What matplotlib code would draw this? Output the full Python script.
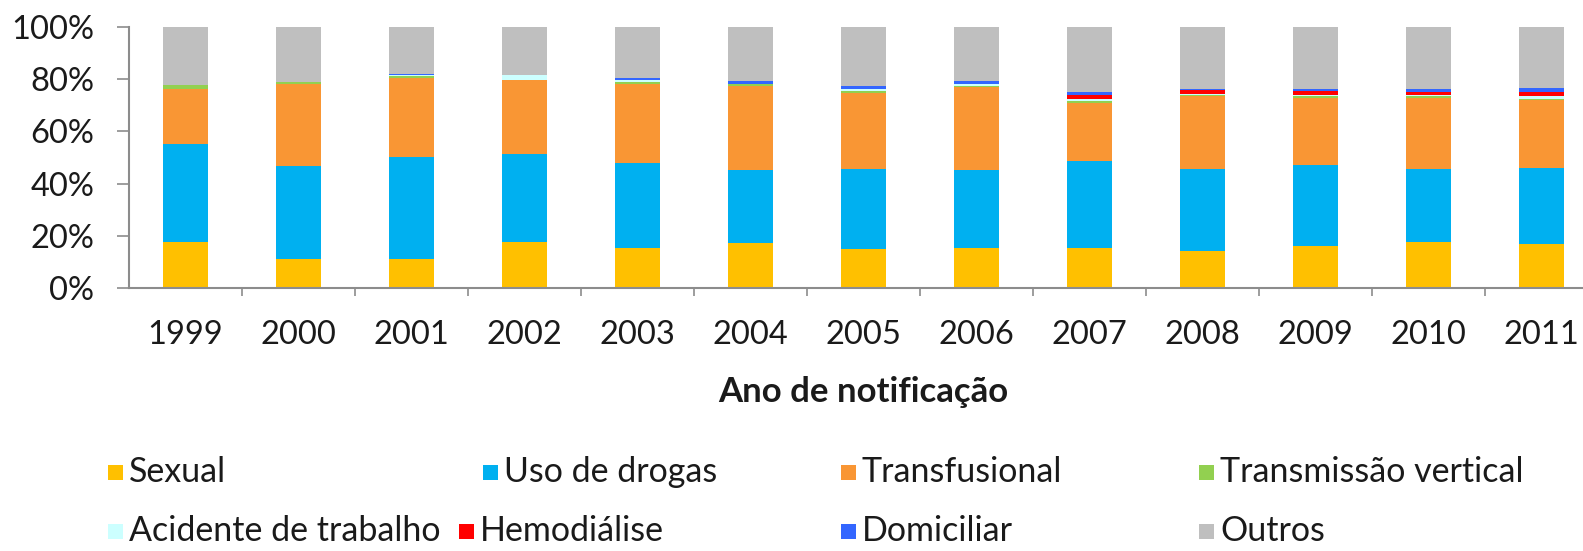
import numpy as np
import matplotlib
matplotlib.use("Agg")
import matplotlib.pyplot as plt
from matplotlib.patches import Rectangle

plt.rcParams['font.family'] = ['Lato', 'DejaVu Sans']

years = ['1999', '2000', '2001', '2002', '2003', '2004', '2005',
         '2006', '2007', '2008', '2009', '2010', '2011']

sexual        = [17.5, 11.1, 11.1, 17.5, 15.5, 17.1, 15.0, 15.5, 15.2, 14.1, 16.1, 17.5, 16.9]
uso_drogas    = [37.5, 35.7, 39.0, 34.0, 32.5, 28.0, 30.6, 29.6, 33.3, 31.5, 30.9, 28.1, 29.2]
transfusional = [21.2, 31.5, 30.2, 28.1, 30.3, 32.4, 29.3, 31.8, 22.2, 27.8, 25.9, 27.3, 25.9]
transm_vert   = [1.4, 0.8, 0.8, 0.0, 0.7, 0.5, 0.5, 0.6, 0.8, 0.6, 0.6, 0.6, 0.6]
acidente      = [0.0, 0.0, 0.4, 1.9, 0.8, 0.2, 1.0, 0.8, 0.8, 0.5, 0.5, 0.5, 1.1]
hemodialise   = [0.0, 0.0, 0.0, 0.0, 0.0, 0.0, 0.0, 0.0, 1.7, 1.3, 1.5, 1.1, 1.4]
domiciliar    = [0.0, 0.0, 0.6, 0.0, 0.8, 1.0, 1.0, 0.9, 1.0, 0.5, 0.6, 1.0, 1.5]

series_names = ['Sexual', 'Uso de drogas', 'Transfusional', 'Transmissão vertical',
                'Acidente de trabalho', 'Hemodiálise', 'Domiciliar', 'Outros']
colors = ['#FFC000', '#00B0F0', '#F99634', '#92D050',
          '#CCFFFF', '#FF0000', '#3366FF', '#BFBFBF']

parts = [sexual, uso_drogas, transfusional, transm_vert, acidente, hemodialise, domiciliar]
outros = [100 - sum(v) for v in zip(*parts)]
all_series = parts + [outros]

W, H = 1583, 551
fig = plt.figure(figsize=(W / 100, H / 100), dpi=100)
ax_left, ax_right = 129, 1598
ax_bottom, ax_top = 288, 27
ax = fig.add_axes([ax_left / W, 1 - ax_bottom / H,
                   (ax_right - ax_left) / W, (ax_bottom - ax_top) / H])

x = np.arange(len(years))
bottom = np.zeros(len(years))
for vals, c in zip(all_series, colors):
    vals = np.array(vals)
    ax.bar(x, vals, width=0.4, bottom=bottom, color=c, edgecolor='none')
    bottom += vals

ax.set_xlim(-0.5, len(years) - 0.5)
ax.set_ylim(0, 100)
ax.set_yticks(np.arange(0, 101, 20))
ax.set_yticklabels([f'{v}%' for v in range(0, 101, 20)])
ax.set_xticks(x)
ax.set_xticklabels(years)
ax.set_xticks(np.arange(0.5, len(years) - 0.5, 1), minor=True)

spine_c = '#8C8C8C'
for s in ['top', 'right']:
    ax.spines[s].set_visible(False)
for s in ['left', 'bottom']:
    ax.spines[s].set_color(spine_c)
    ax.spines[s].set_linewidth(1.5)

ax.tick_params(axis='y', length=9, width=1.2, color=spine_c, pad=16,
               labelsize=23.5, labelcolor='#1a1a1a')
ax.tick_params(axis='x', which='major', length=0, pad=23,
               labelsize=23.5, labelcolor='#1a1a1a')
ax.tick_params(axis='x', which='minor', length=6, width=1.2, color=spine_c)

ax.set_xlabel('Ano de notificação', fontsize=25, fontweight='bold', color='#1a1a1a')
ax.xaxis.label.set_va('center')
ax.xaxis.set_label_coords(0.5, (ax_bottom - 392) / (ax_bottom - ax_top))

# legend (manual layout, Excel-style)
leg_x = [108, 483, 841, 1199, 108, 459, 841, 1199]
leg_y = [472, 472, 472, 472, 531, 531, 531, 531]
sq = 15
for name, c, lx, ly in zip(series_names, colors, leg_x, leg_y):
    fig.patches.append(Rectangle((lx / W, 1 - (ly + sq / 2) / H), sq / W, sq / H,
                                 transform=fig.transFigure, facecolor=c,
                                 edgecolor='none'))
    fig.text((lx + sq + 6) / W, 1 - ly / H, name, fontsize=24.5,
             va='center', ha='left', color='#1a1a1a')

fig.savefig('out.png', dpi=100)
